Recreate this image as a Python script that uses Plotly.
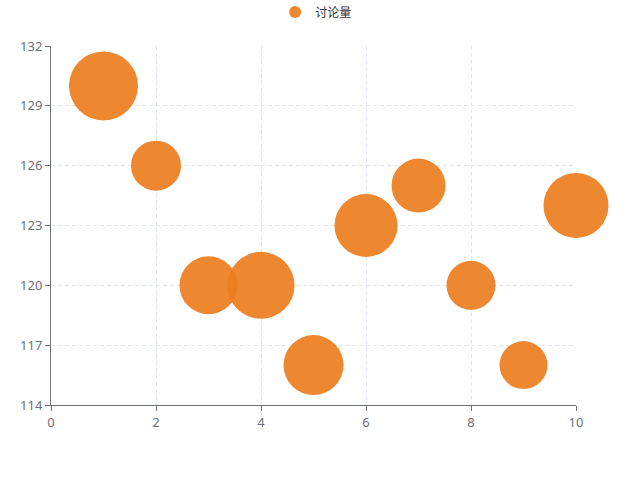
import plotly.graph_objects as go

series_name = "讨论量"
x_vals = [1, 2, 3, 4, 5, 6, 7, 8, 9, 10]
y_vals = [130, 126, 120, 120, 116, 123, 125, 120, 116, 124]
bubble_vals = [69, 50, 58, 67, 60, 63, 54, 49, 48, 65]

x_ticks = [0, 2, 4, 6, 8, 10]
y_ticks = [114, 117, 120, 123, 126, 129, 132]

fig = go.Figure()
fig.add_trace(go.Scatter(
    x=x_vals, y=y_vals, mode="markers", name=series_name,
    cliponaxis=False,
    marker=dict(size=bubble_vals, sizemode="diameter",
                color="rgba(236,126,32,0.93)", opacity=1,
                line=dict(width=0)),
))

axis_common = dict(
    showline=True, linecolor="#6e7079", linewidth=1,
    ticks="outside", tickcolor="#6e7079", ticklen=5,
    tickfont=dict(color="#6e7079", size=13, family="Noto Sans, sans-serif"),
    showgrid=True, gridcolor="#e0e6f1", griddash="4px,3px", gridwidth=1,
    zeroline=False, layer="below traces",
)
fig.update_xaxes(range=[0, 10], tickvals=x_ticks, **axis_common)
fig.update_yaxes(range=[114, 132], tickvals=y_ticks, **axis_common)

fig.update_layout(
    width=640, height=480,
    margin=dict(l=51, r=64, t=46, b=75, autoexpand=False),
    paper_bgcolor="white", plot_bgcolor="white",
    font=dict(family="Noto Sans CJK SC, Noto Sans, sans-serif", color="#333"),
    legend=dict(orientation="h", x=0.505, xanchor="center", y=1.095, yanchor="middle",
                yref="paper", itemsizing="constant",
                font=dict(size=12, color="#333", family="Noto Sans CJK SC")),
    showlegend=True,
)

fig.write_html("out.html", config={"displayModeBar": False},
               post_script="document.body.style.margin='0';")
